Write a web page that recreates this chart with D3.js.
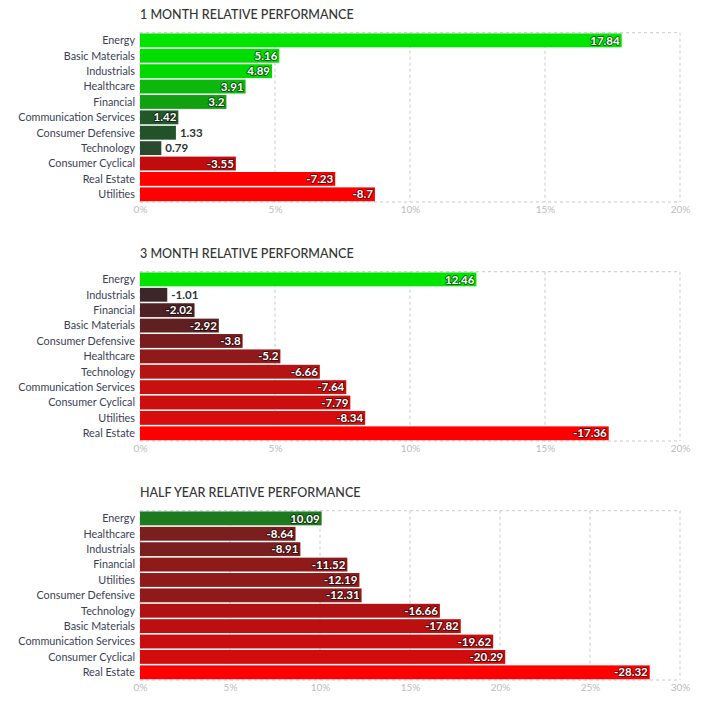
<!DOCTYPE html>
<html><head><meta charset="utf-8">
<script src="https://cdn.jsdelivr.net/npm/d3@7"></script>
<style>
html,body{margin:0;padding:0;background:#fff;}
svg{display:block;font-family:Lato, "Open Sans", sans-serif;}
</style></head>
<body><svg id="c" width="702" height="702"></svg>
<script>
// ---- data ----
const titles = ["1 MONTH RELATIVE PERFORMANCE", "3 MONTH RELATIVE PERFORMANCE", "HALF YEAR RELATIVE PERFORMANCE"];

const cats1m = ["Energy","Basic Materials","Industrials","Healthcare","Financial","Communication Services","Consumer Defensive","Technology","Consumer Cyclical","Real Estate","Utilities"];
const vals1m = [17.84, 5.16, 4.89, 3.91, 3.2, 1.42, 1.33, 0.79, -3.55, -7.23, -8.7];

const cats3m = ["Energy","Industrials","Financial","Basic Materials","Consumer Defensive","Healthcare","Technology","Communication Services","Consumer Cyclical","Utilities","Real Estate"];
const vals3m = [12.46, -1.01, -2.02, -2.92, -3.8, -5.2, -6.66, -7.64, -7.79, -8.34, -17.36];

const cats6m = ["Energy","Healthcare","Industrials","Financial","Utilities","Consumer Defensive","Technology","Basic Materials","Communication Services","Consumer Cyclical","Real Estate"];
const vals6m = [10.09, -8.64, -8.91, -11.52, -12.19, -12.31, -16.66, -17.82, -19.62, -20.29, -28.32];

const ticks1m = [0, 5, 10, 15, 20];
const ticks3m = [0, 5, 10, 15, 20];
const ticks6m = [0, 5, 10, 15, 20, 25, 30];

// styles (bar colours per row)
const colors1m = ["#00e400","#00de00","#00d900","#0cb80c","#10a010","#22572a","#23522a","#2a4a2e","#c00c0c","#ff0000","#ff0000"];
const colors3m = ["#00e400","#3c2629","#4e2224","#602022","#7a1c1e","#901a1a","#b41414","#c81010","#cc0e0e","#d80c0c","#ff0000"];
const colors6m = ["#1e7a1e","#7a1e1e","#7a1e1e","#8e1a1a","#8e1a1a","#8e1a1a","#b01212","#bc1010","#c80e0e","#d00c0c","#ff0000"];

const panels = [
  {title: titles[0], cats: cats1m, vals: vals1m, ticks: ticks1m, colors: colors1m},
  {title: titles[1], cats: cats3m, vals: vals3m, ticks: ticks3m, colors: colors3m},
  {title: titles[2], cats: cats6m, vals: vals6m, ticks: ticks6m, colors: colors6m}
];

const svg = d3.select("#c");
const left = 140, right = 680;
const offsets = [0, 239, 478];

panels.forEach((p, i) => {
  const g = svg.append("g").attr("transform", `translate(0,${offsets[i]})`);
  const top = 32.7, bottom = 202;
  const x = d3.scaleLinear().domain([0, d3.max(p.ticks)]).range([left, right]);
  const y = d3.scaleBand().domain(p.cats).range([top, bottom]).paddingInner(0.1).paddingOuter(0.05);

  g.append("text").attr("x", left).attr("y", 19)
    .attr("font-size", 12.5).attr("fill", "#333").attr("font-weight", 500)
    .text(p.title);

  // grid
  const grid = g.append("g");
  grid.selectAll("line.v").data(p.ticks.slice(1)).join("line")
    .attr("x1", d => x(d)).attr("x2", d => x(d)).attr("y1", top).attr("y2", bottom)
    .attr("stroke", "#c8c8d0").attr("stroke-dasharray", "3,3").attr("stroke-width", 1);
  grid.append("line").attr("x1", left).attr("x2", right).attr("y1", top).attr("y2", top)
    .attr("stroke", "#c8c8d0").attr("stroke-dasharray", "3,3");
  grid.append("line").attr("x1", left).attr("x2", right).attr("y1", bottom).attr("y2", bottom)
    .attr("stroke", "#c8c8d0").attr("stroke-dasharray", "3,3");
  grid.append("line").attr("x1", left).attr("x2", left).attr("y1", top).attr("y2", bottom)
    .attr("stroke", "#c8c8d0").attr("stroke-dasharray", "3,3");

  // axis ticks labels
  const axis = d3.axisBottom(x).tickValues(p.ticks).tickFormat(d => d + "%").tickSize(0).tickPadding(4);
  const ag = g.append("g").attr("transform", `translate(0,${bottom})`).call(axis);
  ag.select(".domain").remove();
  ag.selectAll("text").attr("fill", "#bbb").attr("font-size", 10).attr("font-family", "Lato, sans-serif");

  // bars
  g.selectAll("rect.bar").data(p.vals).join("rect")
    .attr("x", left).attr("y", (d, j) => y(p.cats[j]))
    .attr("width", d => x(Math.abs(d)) - left)
    .attr("height", y.bandwidth())
    .attr("fill", (d, j) => p.colors[j]);

  // category labels
  g.selectAll("text.cat").data(p.cats).join("text")
    .attr("x", left - 5).attr("y", d => y(d) + y.bandwidth() / 2)
    .attr("dy", "0.35em").attr("text-anchor", "end")
    .attr("font-size", 10.8).attr("fill", "#3a3f55")
    .text(d => d);

  // value labels
  p.vals.forEach((v, j) => {
    const w = x(Math.abs(v)) - left;
    const inside = w >= 37;
    const t = g.append("text")
      .attr("y", y(p.cats[j]) + y.bandwidth() / 2).attr("dy", "0.36em")
      .attr("font-size", 11.5).attr("font-weight", 700)
      .attr("paint-order", "stroke").attr("stroke-linejoin", "round")
      .text(String(v));
    if (inside) {
      t.attr("x", x(Math.abs(v)) - 2).attr("text-anchor", "end")
        .attr("fill", "#fff").attr("stroke", "rgba(0,0,0,0.55)").attr("stroke-width", 2);
    } else {
      t.attr("x", x(Math.abs(v)) + 4).attr("text-anchor", "start")
        .attr("fill", "#2b3535").attr("stroke", "rgba(255,255,255,0.9)").attr("stroke-width", 2);
    }
  });
});
</script></body></html>
